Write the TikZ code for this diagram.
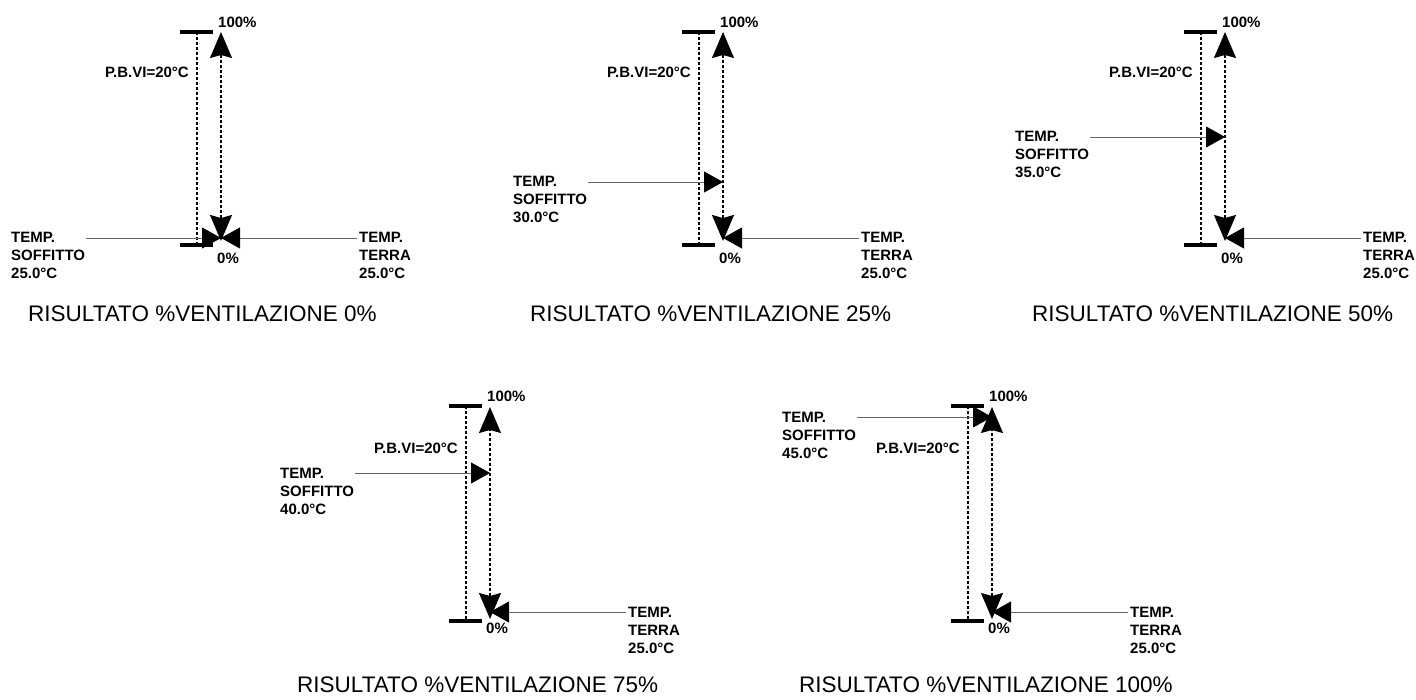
\documentclass[tikz,border=0pt]{standalone}
\usepackage{fontspec}
\setmainfont{Liberation Sans}
\usepackage{tikz}
\usetikzlibrary{arrows.meta}

\newcommand{\templbl}[2]{\begin{tabular}[t]{@{}l@{}}TEMP.\\#1\\#2\end{tabular}}

\begin{document}
\begin{tikzpicture}[x=1pt, y=-1pt,
  every node/.style={inner sep=0pt, font=\fontsize{15}{18}\selectfont\bfseries},
  capt/.style={anchor=base west, font=\fontsize{22.5}{26}\selectfont},
  bar/.style={line width=3.5pt},
  guide/.style={line width=1.4pt, dash pattern=on 3pt off 2pt},
  gauge/.style={guide, {Stealth[length=26pt, width=22pt, inset=3pt]}-{Stealth[length=26pt, width=22pt, inset=3pt]}},
  probe/.style={black!60, line width=0.9pt, -{Triangle[length=19pt, width=21pt, color=black]}}]
  \useasboundingbox (0,0) rectangle (1416,700);

  % 0%
  \coordinate (hi1) at (221,32);
  \coordinate (lo1) at (221,241);
  \coordinate (s1) at (221,238);
  \draw[bar] (180,32) -- (213,32);
  \draw[bar] (180,245) -- (213,245);
  \draw[guide] (197,32) -- (197,245);
  \draw[gauge] (lo1) -- (hi1);
  \node[anchor=base west] (up1) at (218,28) {100\%};
  \node[anchor=base west] (dn1) at (217,264) {0\%};
  \node[anchor=base east] (pb1) at (189,78) {P.B.VI=20°C};
  \node[anchor=base west] (sof1) at (11,243) {\templbl{SOFFITTO}{25.0°C}};
  \coordinate (sa1) at (86,238);
  \draw[probe] (sa1) -- (s1);
  \node[anchor=base west] (ter1) at (359,243) {\templbl{TERRA}{25.0°C}};
  \coordinate (ta1) at (357,238);
  \draw[probe] (ta1) -- (s1);
  \node[capt] (cap1) at (28,322) {RISULTATO \%VENTILAZIONE 0\%};

  % 25%
  \coordinate (hi2) at (723,32);
  \coordinate (lo2) at (723,241);
  \coordinate (s2) at (723,182);
  \coordinate (t2) at (723,238);
  \draw[bar] (682,32) -- (715,32);
  \draw[bar] (682,245) -- (715,245);
  \draw[guide] (699,32) -- (699,245);
  \draw[gauge] (lo2) -- (hi2);
  \node[anchor=base west] (up2) at (720,28) {100\%};
  \node[anchor=base west] (dn2) at (719,264) {0\%};
  \node[anchor=base east] (pb2) at (691,78) {P.B.VI=20°C};
  \node[anchor=base west] (sof2) at (513,187) {\templbl{SOFFITTO}{30.0°C}};
  \coordinate (sa2) at (588,182);
  \draw[probe] (sa2) -- (s2);
  \node[anchor=base west] (ter2) at (861,243) {\templbl{TERRA}{25.0°C}};
  \coordinate (ta2) at (859,238);
  \draw[probe] (ta2) -- (t2);
  \node[capt] (cap2) at (530,322) {RISULTATO \%VENTILAZIONE 25\%};

  % 50%
  \coordinate (hi3) at (1225,32);
  \coordinate (lo3) at (1225,241);
  \coordinate (s3) at (1225,137);
  \coordinate (t3) at (1225,238);
  \draw[bar] (1184,32) -- (1217,32);
  \draw[bar] (1184,245) -- (1217,245);
  \draw[guide] (1201,32) -- (1201,245);
  \draw[gauge] (lo3) -- (hi3);
  \node[anchor=base west] (up3) at (1222,28) {100\%};
  \node[anchor=base west] (dn3) at (1221,264) {0\%};
  \node[anchor=base east] (pb3) at (1193,78) {P.B.VI=20°C};
  \node[anchor=base west] (sof3) at (1015,142) {\templbl{SOFFITTO}{35.0°C}};
  \coordinate (sa3) at (1090,137);
  \draw[probe] (sa3) -- (s3);
  \node[anchor=base west] (ter3) at (1363,243) {\templbl{TERRA}{25.0°C}};
  \coordinate (ta3) at (1361,238);
  \draw[probe] (ta3) -- (t3);
  \node[capt] (cap3) at (1032,322) {RISULTATO \%VENTILAZIONE 50\%};

  % 75%
  \coordinate (hi4) at (490,407);
  \coordinate (lo4) at (490,619);
  \coordinate (s4) at (490,473);
  \coordinate (t4) at (490,612);
  \draw[bar] (449,406) -- (482,406);
  \draw[bar] (449,621) -- (482,621);
  \draw[guide] (466,406) -- (466,621);
  \draw[gauge] (lo4) -- (hi4);
  \node[anchor=base west] (up4) at (487,401) {100\%};
  \node[anchor=base west] (dn4) at (486,633) {0\%};
  \node[anchor=base east] (pb4) at (458,453) {P.B.VI=20°C};
  \node[anchor=base west] (sof4) at (280,478) {\templbl{SOFFITTO}{40.0°C}};
  \coordinate (sa4) at (355,473);
  \draw[probe] (sa4) -- (s4);
  \node[anchor=base west] (ter4) at (628,617) {\templbl{TERRA}{25.0°C}};
  \coordinate (ta4) at (626,612);
  \draw[probe] (ta4) -- (t4);
  \node[capt] (cap4) at (297,692) {RISULTATO \%VENTILAZIONE 75\%};

  % 100%
  \coordinate (hi5) at (992,407);
  \coordinate (lo5) at (992,619);
  \coordinate (s5) at (992,417);
  \coordinate (t5) at (992,612);
  \draw[bar] (951,406) -- (984,406);
  \draw[bar] (951,621) -- (984,621);
  \draw[guide] (968,406) -- (968,621);
  \draw[gauge] (lo5) -- (hi5);
  \node[anchor=base west] (up5) at (989,401) {100\%};
  \node[anchor=base west] (dn5) at (988,633) {0\%};
  \node[anchor=base east] (pb5) at (960,453) {P.B.VI=20°C};
  \node[anchor=base west] (sof5) at (782,422) {\templbl{SOFFITTO}{45.0°C}};
  \coordinate (sa5) at (857,417);
  \draw[probe] (sa5) -- (s5);
  \node[anchor=base west] (ter5) at (1130,617) {\templbl{TERRA}{25.0°C}};
  \coordinate (ta5) at (1128,612);
  \draw[probe] (ta5) -- (t5);
  \node[capt] (cap5) at (799,692) {RISULTATO \%VENTILAZIONE 100\%};
\end{tikzpicture}
\end{document}
